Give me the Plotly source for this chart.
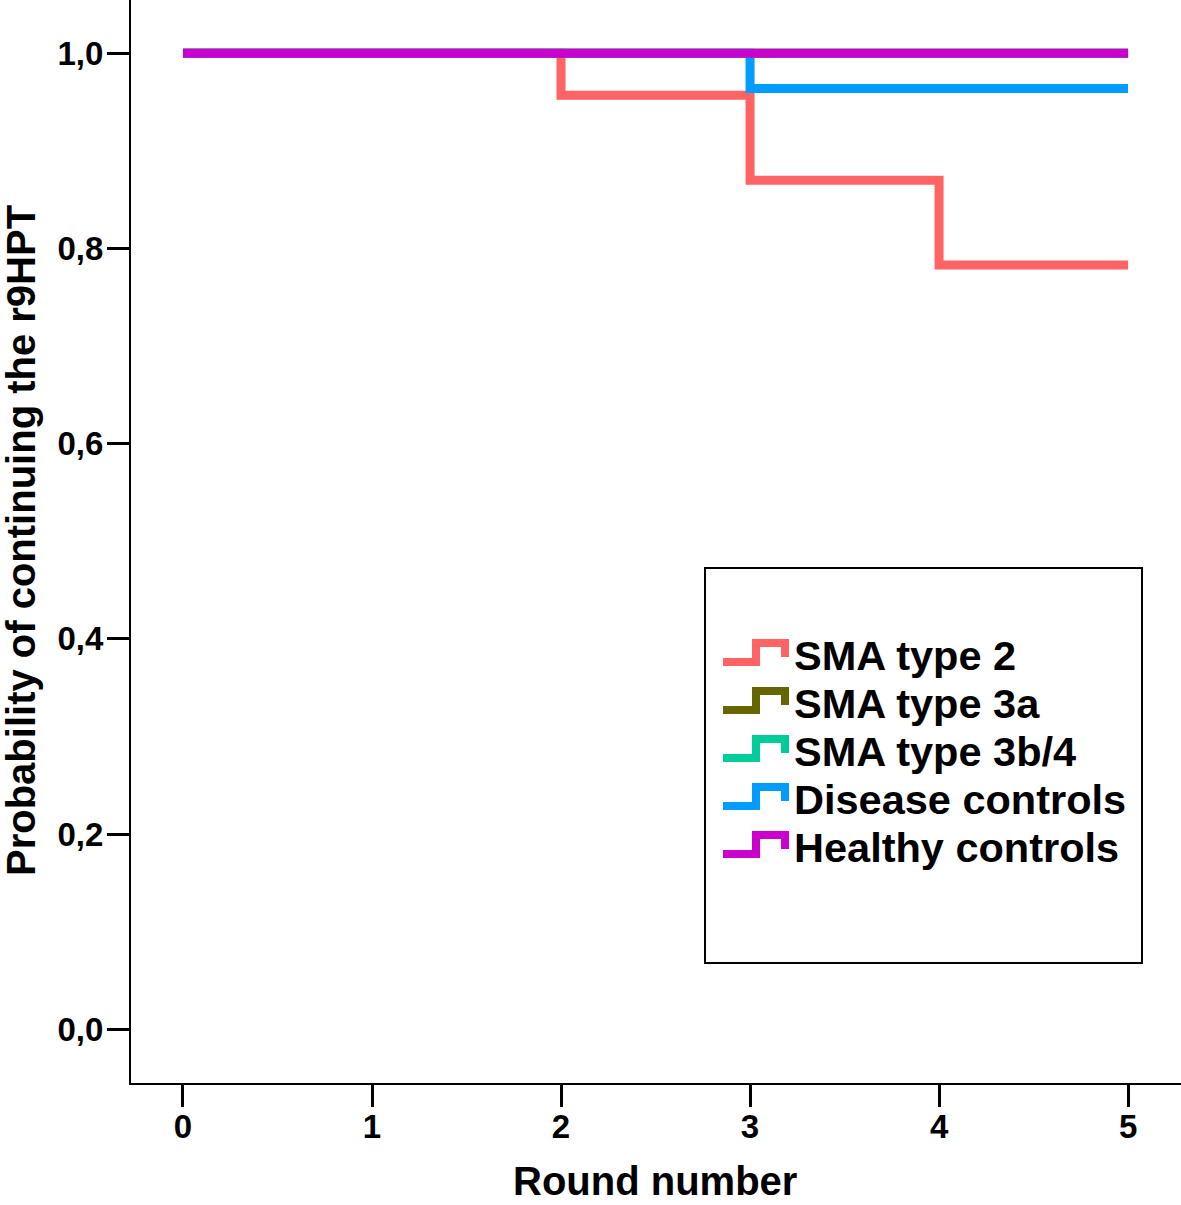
import plotly.graph_objects as go

rounds = [0, 1, 2, 3, 4, 5]
groups = ["SMA type 2", "SMA type 3a", "SMA type 3b/4", "Disease controls", "Healthy controls"]
sma2 = [1.0, 1.0, 0.957, 0.870, 0.783, 0.783]
sma3a = [1.0, 1.0, 1.0, 1.0, 1.0, 1.0]
sma3b4 = [1.0, 1.0, 1.0, 1.0, 1.0, 1.0]
disease = [1.0, 1.0, 1.0, 0.964, 0.964, 0.964]
healthy = [1.0, 1.0, 1.0, 1.0, 1.0, 1.0]
colors = ["#ff6363", "#666600", "#00cc99", "#009cff", "#cc00cc"]
series = [sma2, sma3a, sma3b4, disease, healthy]
x_ticks = [0, 1, 2, 3, 4, 5]
y_ticks = [0.0, 0.2, 0.4, 0.6, 0.8, 1.0]

FONT = "Liberation Sans, Arial, sans-serif"
W, H = 1181, 1205
L, B = 131, 122
PW, PH = W - L, H - B

def px(xp):
    return (xp - L) / PW

def py(yp):
    return (H - B - yp) / PH

fig = go.Figure()
for name, ys, c in zip(groups, series, colors):
    fig.add_trace(go.Scatter(x=rounds, y=ys, mode="lines", line=dict(color=c, width=9, shape="hv"),
                             name=name, showlegend=False))

shapes = []
annotations = []
# legend box
shapes.append(dict(type="rect", xref="paper", yref="paper", x0=px(705), x1=px(1142), y0=py(568), y1=py(963),
                   line=dict(color="black", width=2), fillcolor="white", layer="above"))
for i, (name, c) in enumerate(zip(groups, colors)):
    yc = 655 + 48 * i
    xs = [723, 756, 756, 785, 785]
    yy = [yc + 7, yc + 7, yc - 12, yc - 12, yc + 2]
    path = "M " + " L ".join(f"{px(a)},{py(b)}" for a, b in zip(xs, yy))
    shapes.append(dict(type="path", xref="paper", yref="paper", path=path,
                       line=dict(color=c, width=8), layer="above"))
    annotations.append(dict(text=name, xref="paper", yref="paper", x=px(792), y=py(yc), xanchor="left",
                            yanchor="middle", showarrow=False,
                            font=dict(family=FONT, size=41.5, color="black", weight="bold")))

annotations.append(dict(text="Round number", xref="paper", yref="paper", x=px(655), y=py(1181),
                        xanchor="center", yanchor="middle", showarrow=False,
                        font=dict(family=FONT, size=40, color="black", weight="bold")))
annotations.append(dict(text="Probability of continuing the r9HPT", xref="paper", yref="paper",
                        x=px(21), y=py(541), xanchor="center", yanchor="middle", showarrow=False, textangle=-90,
                        font=dict(family=FONT, size=40, color="black", weight="bold")))

fig.update_layout(
    width=W, height=H, margin=dict(l=L, r=0, t=0, b=B),
    paper_bgcolor="white", plot_bgcolor="white", separators=",.",
    shapes=shapes, annotations=annotations, showlegend=False,
    font=dict(family=FONT, color="black"),
)
fig.update_xaxes(range=[-0.275, 5.28], tickvals=x_ticks, showgrid=False, zeroline=False,
                 showline=True, linecolor="black", linewidth=2, ticks="outside", ticklen=22, tickwidth=3,
                 tickcolor="black", ticklabelstandoff=-9,
                 tickfont=dict(family=FONT, size=33, color="black", weight="bold"))
fig.update_yaxes(range=[-0.055, 1.0546], tickvals=y_ticks, tickformat=".1f", showgrid=False, zeroline=False,
                 showline=True, linecolor="black", linewidth=2, ticks="outside", ticklen=22, tickwidth=3,
                 tickcolor="black", ticklabelstandoff=-3,
                 tickfont=dict(family=FONT, size=33, color="black", weight="bold"))
fig.write_html("out.html", config={"displayModeBar": False},
               post_script="document.body.style.margin='0';document.body.style.overflow='hidden';")
